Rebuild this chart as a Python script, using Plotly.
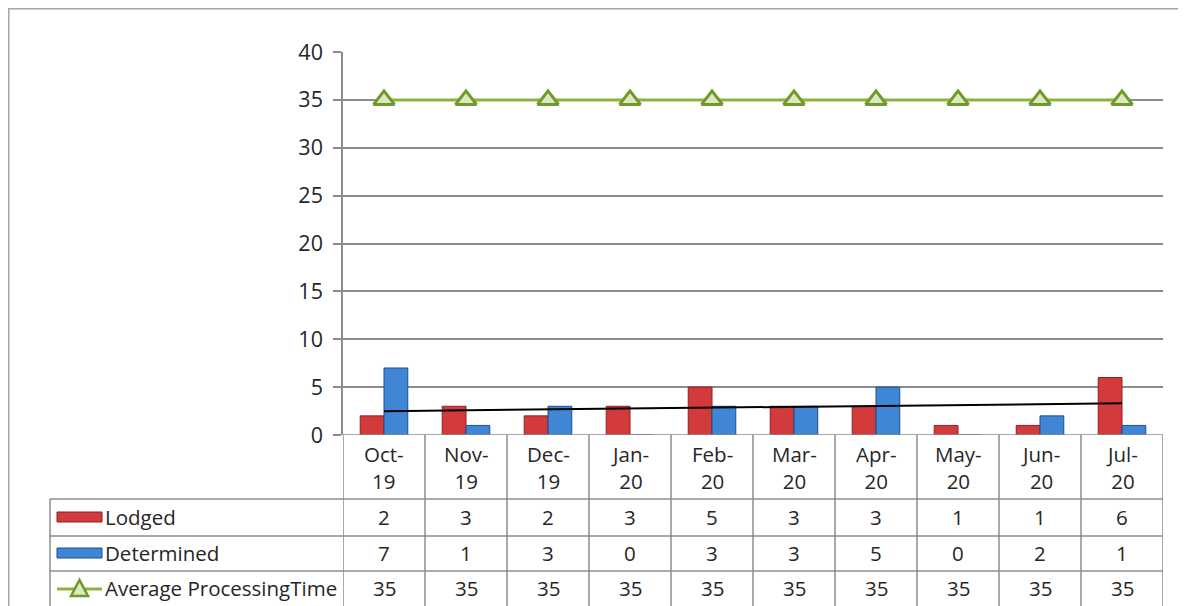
import numpy as np
import plotly.graph_objects as go

months = ["Oct-19", "Nov-19", "Dec-19", "Jan-20", "Feb-20",
          "Mar-20", "Apr-20", "May-20", "Jun-20", "Jul-20"]
lodged = [2, 3, 2, 3, 5, 3, 3, 1, 1, 6]
determined = [7, 1, 3, 0, 3, 3, 5, 0, 2, 1]
avg_time = [35, 35, 35, 35, 35, 35, 35, 35, 35, 35]
series_names = ["Lodged", "Determined", "Average ProcessingTime"]

# the page body has an 8px margin, so the figure is drawn 8px smaller and
# every screen position below is shifted by that offset
OFF = 8
W, H = 1186 - OFF, 606 - OFF
L, R, T, B = 343, 1163, 52, 435   # plot area in screen pixels
FONT = "'Open Sans', 'Noto Sans', sans-serif"
FS = 20.5
TXT = "#262626"
GRID = "#8c8c8c"
RED, RED_DK = "#d23a3c", "#8e1f20"
BLUE, BLUE_DK = "#3f86d6", "#1f4f8e"
GREEN, GREEN_LT, GREEN_DK = "#8db23e", "#dbe8c2", "#6f9a2a"


def px_x(p):
    return (p - L) / (R - L)


def px_y(p):
    return (B - p) / (B - T)


xi = list(range(len(months)))
slope, icpt = np.polyfit(xi, lodged, 1)
trend = [icpt + slope * i for i in xi]

fig = go.Figure()
fig.add_trace(go.Bar(x=xi, y=lodged, name="Lodged", marker=dict(color=RED, line=dict(color=RED_DK, width=1))))
fig.add_trace(go.Bar(x=xi, y=determined, name="Determined", marker=dict(color=BLUE, line=dict(color=BLUE_DK, width=1))))
fig.add_trace(go.Scatter(x=xi, y=avg_time, name="Average ProcessingTime", mode="lines+markers",
                         line=dict(color=GREEN, width=3),
                         marker=dict(symbol="triangle-up", size=18, color=GREEN_LT, line=dict(color=GREEN_DK, width=3))))
fig.add_trace(go.Scatter(x=xi, y=trend, mode="lines", line=dict(color="black", width=2), showlegend=False))

shapes = []
annos = []
line = dict(color=GRID, width=1.5)

# outer chart border
shapes.append(dict(type="rect", xref="paper", yref="paper", x0=px_x(OFF), x1=px_x(1200), y0=px_y(OFF), y1=px_y(620),
                   line=dict(color="#a6a6a6", width=3), layer="below"))

# data table grid
rows = [499, 536, 571]
for y in rows:
    shapes.append(dict(type="line", xref="paper", yref="paper", x0=px_x(50), x1=1, y0=px_y(y), y1=px_y(y), line=line))
shapes.append(dict(type="line", xref="paper", yref="paper", x0=px_x(50), x1=px_x(50), y0=px_y(499), y1=px_y(620), line=line))
for i in range(len(months) + 1):
    shapes.append(dict(type="line", xref="x", yref="paper", x0=i - 0.5, x1=i - 0.5, y0=0, y1=px_y(620), line=line))

row_mid = [517, 553, 588]
for i, m in enumerate(months):
    mon, yr = m.split("-")
    annos.append(dict(x=i, y=px_y(467), xref="x", yref="paper", text=mon + "-<br>" + yr, showarrow=False,
                      yanchor="middle", xanchor="center", align="center",
                      font=dict(size=FS, color=TXT, family=FONT)))
    for vals, ym in zip([lodged, determined, avg_time], row_mid):
        annos.append(dict(x=i, y=px_y(ym), xref="x", yref="paper", text=str(vals[i]), showarrow=False,
                          yanchor="middle", xanchor="center",
                          font=dict(size=FS, color=TXT, family=FONT)))

for name, ym in zip(series_names, row_mid):
    annos.append(dict(x=px_x(103), y=px_y(ym), xref="paper", yref="paper", text=name, showarrow=False,
                      xanchor="left", yanchor="middle", font=dict(size=FS, color=TXT, family=FONT)))

# legend keys inside the table
for (fill, edge), ym in zip([(RED, RED_DK), (BLUE, BLUE_DK)], row_mid[:2]):
    shapes.append(dict(type="rect", xref="paper", yref="paper", x0=px_x(57), x1=px_x(102),
                       y0=px_y(ym - 5), y1=px_y(ym + 5), fillcolor=fill, line=dict(color=edge, width=1)))
shapes.append(dict(type="line", xref="paper", yref="paper", x0=px_x(57), x1=px_x(102),
                   y0=px_y(589), y1=px_y(589), line=dict(color=GREEN, width=3)))
shapes.append(dict(type="path", xref="paper", yref="paper",
                   path="M {} {} L {} {} L {} {} Z".format(px_x(71), px_y(596), px_x(79.5), px_y(580), px_x(88), px_y(596)),
                   fillcolor=GREEN_LT, line=dict(color=GREEN_DK, width=2.5)))

fig.update_layout(
    width=W, height=H,
    margin=dict(l=L - OFF, r=W - (R - OFF), t=T - OFF, b=H - (B - OFF)),
    paper_bgcolor="white", plot_bgcolor="white",
    barmode="group", bargap=0.42, bargroupgap=0,
    showlegend=False,
    font=dict(family=FONT, size=FS, color=TXT),
    xaxis=dict(range=[-0.5, 9.5], showticklabels=False, showgrid=False, zeroline=False,
               showline=False, fixedrange=True),
    yaxis=dict(range=[0, 40], dtick=5, showgrid=True, gridcolor=GRID, gridwidth=1.5,
               showline=True, linecolor=GRID, linewidth=1.5, ticks="outside", ticklen=8,
               tickcolor=GRID, tickwidth=1.5, zeroline=False, fixedrange=True,
               ticklabelstandoff=6,
               tickfont=dict(size=21.5, color=TXT, family=FONT)),
    shapes=shapes,
    annotations=annos,
)
fig.add_shape(type="line", xref="paper", yref="y", x0=px_x(335), x1=1, y0=0, y1=0, line=line)

fig.write_html("out.html")
